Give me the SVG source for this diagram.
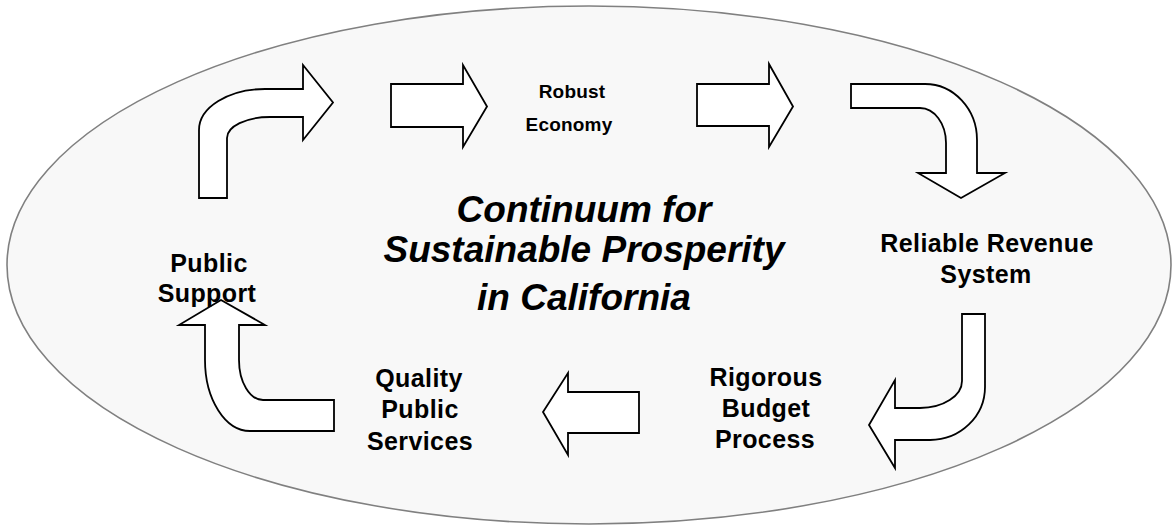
<svg xmlns="http://www.w3.org/2000/svg" width="1172" height="525" viewBox="0 0 1172 525">
<style>
.arrow{fill:#ffffff;stroke:#000000;stroke-width:1.8;stroke-linejoin:miter}
.lbl{font-family:"Liberation Sans",Arial,sans-serif;font-weight:bold;font-size:25px;letter-spacing:0.4px;fill:#000;text-anchor:middle}
.small{font-size:19px;letter-spacing:0.2px}
.title{font-family:"Liberation Sans",Arial,sans-serif;font-weight:bold;font-style:italic;font-size:37px;fill:#000;text-anchor:middle}
</style>
<defs>
<clipPath id="clipRig"><rect x="680" y="350" width="142" height="120"/></clipPath>
</defs>
<rect width="1172" height="525" fill="#ffffff"/>
<g id="background">
<ellipse cx="589" cy="265" rx="582" ry="259" fill="#f8f8f8" stroke="#808080" stroke-width="1.6"/>
</g>
<g id="title">
<text class="title" x="584" y="222">Continuum for</text>
<text class="title" x="584" y="262">Sustainable Prosperity</text>
<text class="title" x="584" y="310">in California</text>
</g>
<g id="connectors">
<path id="arrow-bend-up-right" class="arrow" d="M199,198 L199,130 A66,41 0 0 1 265,89 L303,89 L303,65 L333,102.5 L303,140 L303,117 L270,117 A43,21 0 0 0 227,138 L227,198 Z"/>
<path id="arrow-right-1" class="arrow" d="M391,84 L463,84 L463,65 L487,106.5 L463,147 L463,127 L391,127 Z"/>
<path id="arrow-right-2" class="arrow" d="M697,84 L769,84 L769,64 L793,106.5 L769,147 L769,126 L697,126 Z"/>
<path id="arrow-bend-right-down" class="arrow" d="M851,84 L925,84 A52,56 0 0 1 977,140 L977,173 L1005,173 L961,198 L918,173 L946,173 L946,143 A26,35 0 0 0 920,108 L851,108 Z"/>
<path id="arrow-bend-down-left" class="arrow" d="M962,314 L985,314 L985,387 A55,53 0 0 1 930,440 L895,440 L895,468 L869,425 L895,380 L895,408 L920,408 A42,27 0 0 0 962,381 Z"/>
<path id="arrow-left" class="arrow" d="M639,392 L568,392 L568,373 L543,412 L568,455 L568,433 L639,433 Z"/>
<path id="arrow-bend-left-up" class="arrow" d="M334,400 L263,400 A24,40 0 0 1 239,360 L239,325 L265,325 L221,300 L179,325 L205,325 L205,360 A45,71 0 0 0 250,431 L334,431 Z"/>
</g>
<g id="node-robust-economy">
<text class="lbl small" x="572" y="98">Robust</text>
<text class="lbl small" x="569" y="131">Economy</text>
</g>
<g id="node-reliable-revenue">
<text class="lbl" x="987" y="252">Reliable Revenue</text>
<text class="lbl" x="986" y="283">System</text>
</g>
<g id="node-rigorous-budget">
<text class="lbl" x="766" y="386" clip-path="url(#clipRig)">Rigorous</text>
<text class="lbl" x="766" y="417">Budget</text>
<text class="lbl" x="765" y="448">Process</text>
</g>
<g id="node-quality-services">
<text class="lbl" x="419" y="387">Quality</text>
<text class="lbl" x="420" y="418">Public</text>
<text class="lbl" x="420" y="450">Services</text>
</g>
<g id="node-public-support">
<text class="lbl" x="209" y="272">Public</text>
<text class="lbl" x="207" y="302">Support</text>
</g>
</svg>
